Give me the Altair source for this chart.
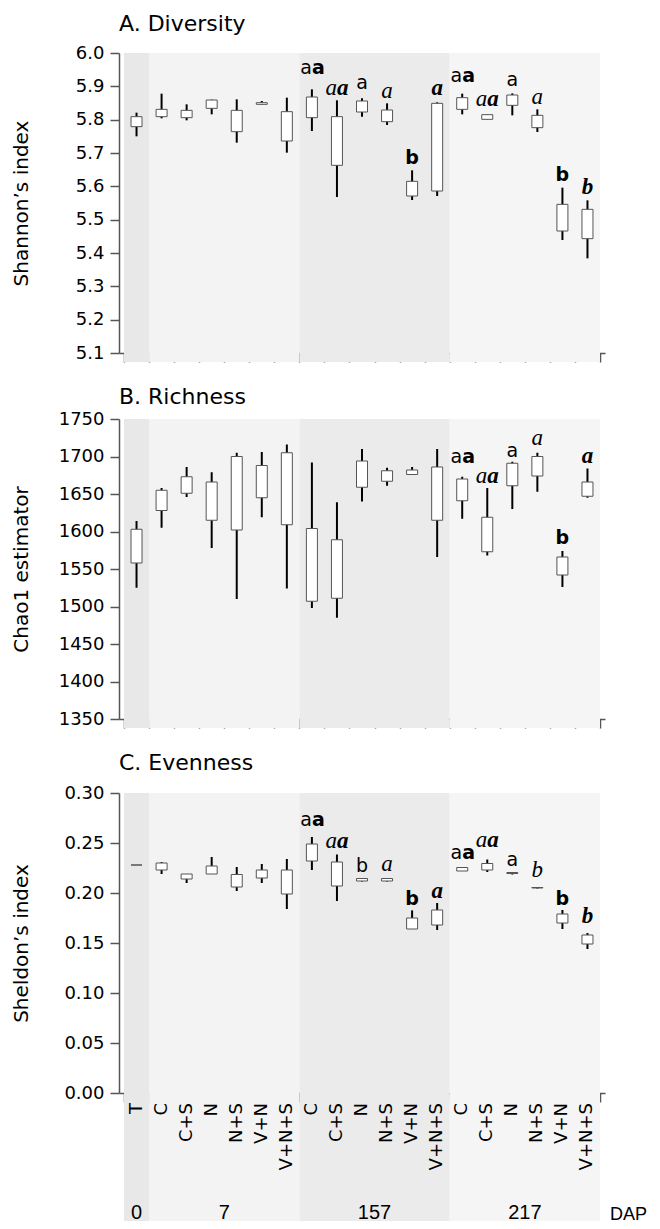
import altair as alt
import pandas as pd

# ---------------- data ----------------
cats = ["T", "C", "C+S", "N", "N+S", "V+N", "V+N+S",
        "C", "C+S", "N", "N+S", "V+N", "V+N+S",
        "C", "C+S", "N", "N+S", "V+N", "V+N+S"]

grp_names = ["0", "7", "157", "217"]
grp_start = [0, 1, 7, 13]
grp_end = [1, 7, 13, 19]
grp_fill = ["#e8e8e8", "#f3f3f3", "#ebebeb", "#f5f5f5"]

# Shannon's index
sh_lo = [5.750, 5.804, 5.798, 5.816, 5.731, 5.846, 5.701, 5.766, 5.568, 5.809,
         5.784, 5.559, 5.571, 5.816, 5.801, 5.813, 5.763, 5.439, 5.384]
sh_q1 = [5.779, 5.809, 5.806, 5.834, 5.764, 5.846, 5.736, 5.806, 5.663, 5.823,
         5.794, 5.571, 5.586, 5.831, 5.801, 5.843, 5.776, 5.466, 5.443]
sh_q3 = [5.809, 5.831, 5.828, 5.859, 5.828, 5.851, 5.824, 5.868, 5.809, 5.856,
         5.829, 5.615, 5.849, 5.866, 5.815, 5.874, 5.813, 5.546, 5.531]
sh_hi = [5.821, 5.878, 5.846, 5.860, 5.861, 5.856, 5.866, 5.891, 5.858, 5.864,
         5.849, 5.648, 5.852, 5.878, 5.815, 5.879, 5.831, 5.596, 5.558]

# Chao1 estimator
ch_lo = [1525, 1605, 1646, 1578, 1510, 1619, 1524, 1498, 1485, 1640,
         1661, 1676, 1566, 1617, 1568, 1630, 1653, 1526, 1645]
ch_q1 = [1558, 1628, 1651, 1615, 1602, 1645, 1609, 1507, 1511, 1659,
         1667, 1676, 1615, 1641, 1573, 1661, 1674, 1542, 1647]
ch_q3 = [1603, 1655, 1673, 1666, 1700, 1688, 1705, 1604, 1589, 1694,
         1681, 1682, 1686, 1670, 1619, 1691, 1700, 1566, 1666]
ch_hi = [1614, 1658, 1686, 1679, 1705, 1706, 1716, 1692, 1639, 1710,
         1685, 1686, 1710, 1673, 1658, 1693, 1705, 1574, 1684]

# Sheldon's index
se_lo = [0.228, 0.219, 0.210, 0.219, 0.202, 0.210, 0.184, 0.223, 0.192, 0.2115,
         0.2115, 0.164, 0.163, 0.222, 0.221, 0.2185, 0.2045, 0.164, 0.144]
se_q1 = [0.228, 0.223, 0.214, 0.219, 0.206, 0.215, 0.199, 0.232, 0.207, 0.212,
         0.212, 0.164, 0.168, 0.222, 0.223, 0.2195, 0.205, 0.170, 0.149]
se_q3 = [0.228, 0.230, 0.219, 0.227, 0.2185, 0.223, 0.223, 0.249, 0.231, 0.2145,
         0.2145, 0.175, 0.183, 0.2255, 0.2295, 0.2205, 0.2055, 0.179, 0.158]
se_hi = [0.228, 0.231, 0.219, 0.236, 0.226, 0.229, 0.234, 0.256, 0.2385, 0.215,
         0.215, 0.1826, 0.190, 0.2255, 0.2335, 0.221, 0.206, 0.183, 0.160]

# significance letters: category index, y value, text, styles per character
# styles: sn = sans normal, sb = sans bold, in = serif italic, ib = serif bold italic
a_idx = [7, 8, 9, 10, 11, 12, 13, 14, 15, 16, 17, 18]
a_y = [5.937, 5.874, 5.892, 5.865, 5.667, 5.874, 5.913, 5.841, 5.901, 5.847, 5.616, 5.577]
a_txt = ["aa", "aa", "a", "a", "b", "a", "aa", "aa", "a", "a", "b", "b"]
a_sty = ["sn sb", "in ib", "sn", "in", "sb", "ib", "sn sb", "in ib", "sn", "in", "sb", "ib"]

b_idx = [13, 14, 15, 16, 17, 18]
b_y = [1691, 1665, 1700, 1716, 1584, 1692]
b_txt = ["aa", "aa", "a", "a", "b", "a"]
b_sty = ["sn sb", "in ib", "sn", "in", "sb", "ib"]

c_idx = [7, 8, 9, 10, 11, 12, 13, 14, 15, 16, 17, 18]
c_y = [0.2672, 0.2455, 0.221, 0.222, 0.1877, 0.1954, 0.2338, 0.2461, 0.2271, 0.216, 0.1877, 0.170]
c_txt = ["aa", "aa", "b", "a", "b", "a", "aa", "aa", "a", "b", "b", "b"]
c_sty = ["sn sb", "in ib", "sn", "in", "sb", "ib", "sn sb", "in ib", "sn", "in", "sb", "ib"]

# ---------------- styling ----------------
W, H = 486, 300
SANS = "DejaVu Sans"
SERIF = "Liberation Serif"
NARROW = "Liberation Sans Narrow, Liberation Sans"
AX = "#555555"

STYLE = {
    "sn": dict(font=SANS, fontSize=19, fontWeight="normal", fontStyle="normal"),
    "sb": dict(font=SANS, fontSize=19, fontWeight="bold", fontStyle="normal"),
    "in": dict(font=SERIF, fontSize=23, fontWeight="normal", fontStyle="italic"),
    "ib": dict(font=SERIF, fontSize=23, fontWeight="bold", fontStyle="italic"),
}

grp_df = pd.DataFrame({"name": grp_names, "start": grp_start, "end": grp_end,
                       "fill": grp_fill,
                       "mid": [(s + e) / 2 for s, e in zip(grp_start, grp_end)]})


def xenc(field):
    return alt.X(field, type="quantitative",
                 scale=alt.Scale(domain=[0, 19], nice=False, zero=False),
                 axis=alt.Axis(values=list(range(20)), labels=False, title=None,
                               tickSize=9, grid=False))


def panel(title, lo, q1, q3, hi, domain, ticks, fmt, ytitle,
          idx, ys, txts, stys, title_offset, bg_extra, bottom=False):
    df = pd.DataFrame({"cat": cats, "pos": [i + 0.5 for i in range(len(cats))],
                       "lo": lo, "q1": q1, "q3": q3, "hi": hi})
    yaxis = alt.Axis(values=ticks, format=fmt, title=ytitle, grid=False,
                     tickSize=9, labelPadding=6, titleX=-98, titleY=H / 2,
                     titleBaseline="middle", titleAngle=270)
    ysc = alt.Scale(domain=domain, nice=False, zero=False)

    def yenc(field):
        return alt.Y(field, type="quantitative", scale=ysc, axis=yaxis)

    bg = alt.Chart(grp_df).mark_rect().encode(
        x=xenc("start"), x2="end",
        y=alt.value(0), y2=alt.value(H + bg_extra),
        color=alt.Color("fill:N", scale=None))

    whisk = alt.Chart(df).mark_rule(color="black", strokeWidth=2).encode(
        x=xenc("pos"), y=yenc("lo"), y2="hi")

    box = alt.Chart(df).mark_bar(size=11, fill="white", stroke=AX,
                                 strokeWidth=1).encode(
        x=xenc("pos"), y=yenc("q1"), y2="q3")

    rows = []
    for i, y, t, s in zip(idx, ys, txts, stys):
        ss = s.split()
        for k, (ch, st) in enumerate(zip(t, ss)):
            if len(t) == 1:
                al = "center"
            else:
                al = "right" if k == 0 else "left"
            rows.append({"pos": i + 0.5, "y": y, "ch": ch, "sty": st, "al": al})
    adf = pd.DataFrame(rows)
    layers = [bg, whisk, box]
    for st, props in STYLE.items():
        for al in ["center", "right", "left"]:
            sub = adf[(adf.sty == st) & (adf.al == al)]
            if len(sub) == 0:
                continue
            layers.append(
                alt.Chart(sub).mark_text(align=al, baseline="alphabetic",
                                         color="black", **props).encode(
                    x=xenc("pos"), y=yenc("y"), text="ch:N"))

    if bottom:
        labs = alt.Chart(df).mark_text(angle=270, align="right", baseline="middle",
                                       font=SANS, fontSize=18, color="black",
                                       dx=1).encode(
            x=xenc("pos"), y=alt.value(H + 11), text="cat:N")
        glabs = alt.Chart(grp_df).mark_text(font=NARROW, fontSize=20,
                                            baseline="middle",
                                            color="black").encode(
            x=xenc("mid"), y=alt.value(H + 120), text="name:N")
        dap = alt.Chart(pd.DataFrame({"t": ["DAP"]})).mark_text(
            font=NARROW, fontSize=18, baseline="middle", align="left",
            color="black").encode(
            x=alt.value(W + 5), y=alt.value(H + 122), text="t:N")
        layers += [labs, glabs, dap]

    return alt.layer(*layers).properties(
        width=W, height=H,
        title=alt.TitleParams(title, anchor="start", frame="group",
                              offset=title_offset))


pA = panel("A. Diversity", sh_lo, sh_q1, sh_q3, sh_hi, [5.1, 6.0],
           [5.1, 5.2, 5.3, 5.4, 5.5, 5.6, 5.7, 5.8, 5.9, 6.0], ".1f",
           "Shannon\u2019s index", a_idx, a_y, a_txt, a_sty, 8, 9)
pB = panel("B. Richness", ch_lo, ch_q1, ch_q3, ch_hi, [1350, 1750],
           [1350, 1400, 1450, 1500, 1550, 1600, 1650, 1700, 1750], "d",
           "Chao1 estimator", b_idx, b_y, b_txt, b_sty, 1, 9)
pC = panel("C. Evenness", se_lo, se_q1, se_q3, se_hi, [0, 0.30],
           [0, 0.05, 0.10, 0.15, 0.20, 0.25, 0.30], ".2f",
           "Sheldon\u2019s index", c_idx, c_y, c_txt, c_sty, 9, 128, bottom=True)

chart = alt.vconcat(pA, pB, pC, spacing=23).properties(
    padding={"left": 3, "top": 5, "right": 0, "bottom": 0}
).configure_view(stroke=None).configure_axis(
    domainColor=AX, tickColor=AX, domainWidth=1.5, tickWidth=1.5,
    labelFont=SANS, labelFontSize=18, labelColor="black",
    titleFont=SANS, titleFontSize=20, titleFontWeight="normal", titleColor="black"
).configure_title(
    font=SANS, fontSize=22, fontWeight="normal", color="black"
)

chart.save("out.html", embed_options={"renderer": "svg", "actions": False})
